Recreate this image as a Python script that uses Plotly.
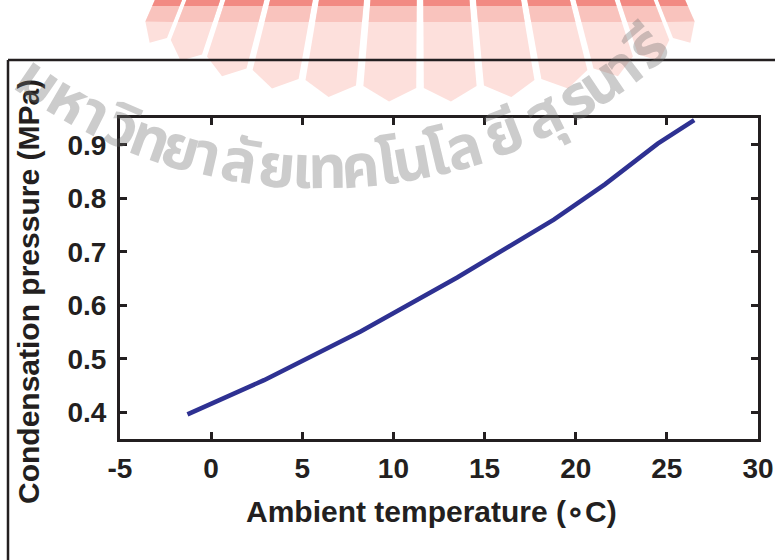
import math
import plotly.graph_objects as go

# Condensation pressure versus ambient temperature
ambient_temp_c = [-1.3, 2.9, 8.2, 13.5, 18.8, 21.6, 24.5, 25.6, 26.5]
cond_pressure_mpa = [0.396, 0.460, 0.551, 0.652, 0.760, 0.826, 0.902, 0.925, 0.946]

x_ticks = [-5, 0, 5, 10, 15, 20, 25, 30]
x_tick_labels = ["-5", "0", "5", "10", "15", "20", "25", "30"]
y_ticks = [0.4, 0.5, 0.6, 0.7, 0.8, 0.9]
y_tick_labels = ["0.4", "0.5", "0.6", "0.7", "0.8", "0.9"]

W, H = 775, 560
ML, MR, MT, MB = 120, 17, 118, 121
PW, PH = W - ML - MR, H - MT - MB
INK = "#231f20"
FONT = "Liberation Sans, Arial, sans-serif"


def px(xp):
    return (xp - ML) / PW


def py(yp):
    return (H - MB - yp) / PH


fig = go.Figure()
fig.add_trace(go.Scatter(
    x=ambient_temp_c, y=cond_pressure_mpa, mode="lines",
    line=dict(color="#2e3192", width=4.5), showlegend=False,
))

axis_common = dict(
    showline=True, linewidth=3, linecolor=INK, mirror="ticks",
    ticks="inside", ticklen=7, tickwidth=2.5, tickcolor=INK,
    showgrid=False, zeroline=False, automargin=False,
    tickfont=dict(family=FONT, size=28, color=INK, weight="bold"),
)
fig.update_xaxes(range=[-5, 30], tickvals=x_ticks, ticktext=x_tick_labels,
                 ticklabelstandoff=2, **axis_common)
fig.update_yaxes(range=[0.35, 0.95], tickvals=y_ticks, ticktext=y_tick_labels,
                 ticklabelstandoff=5, **axis_common)

shapes = []

# sunburst emblem in the top margin
cx, cy, a, b = 420, -10, 290, 98
fx, fy = 420, -600
n_rays = 12
t0, t1 = -72.0, 72.0
step = (t1 - t0) / n_rays
gap = 1.5
tip = 14


def outline(t):
    r = math.radians(t)
    return cx + a * math.sin(r), cy + b * math.cos(r)


def along(p, d):
    dx, dy = p[0] - fx, p[1] - fy
    n = math.hypot(dx, dy)
    return p[0] + d * dx / n, p[1] + d * dy / n


def at_height(p, yc):
    # point on the ray through p at screen height yc (or p itself if p is above it)
    if p[1] <= yc:
        return p
    s = (yc - fy) / (p[1] - fy)
    return fx + s * (p[0] - fx), yc


def path(points):
    s = "M " + " L ".join(f"{px(x):.4f},{py(y):.4f}" for x, y in points)
    return s + " Z"


bands = [(None, "#fde0dc"), (22, "#f9c3bd"), (6, "#f28a83")]
for i in range(n_rays):
    ta = t0 + i * step + gap / 2
    tb = t0 + (i + 1) * step - gap / 2
    tm = (ta + tb) / 2
    pa, pb = outline(ta), outline(tb)
    pm = along(outline(tm), tip)
    top_a, top_b = along(pa, -300), along(pb, -300)
    for yc, col in bands:
        if yc is None or pm[1] <= yc:
            pts = [top_a, pa, pm, pb, top_b]
        else:
            pts = [top_a, at_height(pa, yc), at_height(pb, yc), top_b]
        shapes.append(dict(type="path", path=path(pts), xref="paper", yref="paper",
                           fillcolor=col, line=dict(width=0), layer="below"))

# outer frame
shapes.append(dict(type="line", xref="paper", yref="paper",
                   x0=px(8), x1=px(8), y0=py(60), y1=py(600),
                   line=dict(color=INK, width=2.5), layer="above"))
shapes.append(dict(type="line", xref="paper", yref="paper",
                   x0=px(8), x1=px(800), y0=py(60), y1=py(60),
                   line=dict(color=INK, width=2.5), layer="above"))

annotations = [
    dict(text="Ambient temperature (∘C)", x=px(431), y=py(511), xref="paper", yref="paper",
         showarrow=False, xanchor="center", yanchor="middle",
         font=dict(family=FONT, size=30, color=INK, weight="bold")),
    dict(text="Condensation pressure (MPa)", x=px(28), y=py(292), xref="paper", yref="paper",
         showarrow=False, xanchor="center", yanchor="middle", textangle=-90,
         font=dict(family=FONT, size=30, color=INK, weight="bold")),
]

# arched university name in the background
wm_center = (321, -332)
wm_radius = 502
wm_glyphs = ["ม", "ห", "า", "วิ", "ท", "ย", "า", "ลั", "ย", "เ", "ท",
             "ค", "โ", "น", "โ", "ล", "ยี", "สุ", "ร", "น", "า", "รี"]
wm_angles = [-34.4, -30.3, -26.9, -23.4, -19.9, -16.2, -13.1, -9.3, -5.1, -2.2, 0.7,
             4.5, 7.7, 10.5, 13.5, 16.6, 21.4, 26.4, 30.7, 34.1, 37.3, 40.7]
for g, th in zip(wm_glyphs, wm_angles):
    r = math.radians(th)
    gx = wm_center[0] + wm_radius * math.sin(r)
    gy = wm_center[1] + wm_radius * math.cos(r)
    annotations.append(dict(text=g, x=px(gx), y=py(gy), xref="paper", yref="paper",
                            showarrow=False, xanchor="center", yanchor="middle",
                            textangle=-th,
                            font=dict(family="Noto Sans Thai, Noto Sans, DejaVu Sans, sans-serif",
                                      size=60, weight="bold", color="rgba(110,110,110,0.35)")))

fig.update_layout(
    width=W, height=H, margin=dict(l=ML, r=MR, t=MT, b=MB),
    paper_bgcolor="white", plot_bgcolor="white",
    shapes=shapes, annotations=annotations,
)

fig.write_html("out.html")
